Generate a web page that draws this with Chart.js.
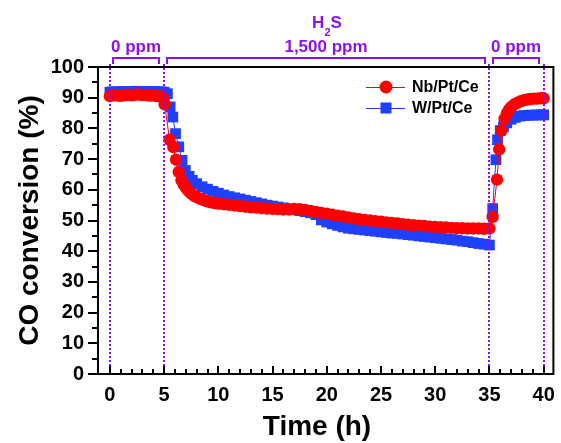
<!DOCTYPE html>
<html><head><meta charset="utf-8">
<script src="https://cdn.jsdelivr.net/npm/chart.js@4"></script>
<style>html,body{margin:0;padding:0;background:#fff}canvas{display:block}</style>
</head><body>
<canvas id="c" width="561" height="443"></canvas>
<script>
const seriesNames = ['Nb/Pt/Ce', 'W/Pt/Ce'];
const nbTime = [0,0.25,0.5,0.75,1,1.25,1.5,1.75,2,2.25,2.5,2.75,3,3.25,3.5,3.75,4,4.25,4.5,4.75,4.95,5.05,5.5,5.85,6.1,6.35,6.6,6.8,7.0,7.2,7.4,7.6,7.8,8.0,8.3,8.6,8.9,9.2,9.5,9.8,10.1,10.5,11,11.5,12,12.5,13,13.5,14,14.5,15,15.5,16,16.5,17,17.5,18,18.5,19,19.5,20,20.5,21,21.5,22,22.5,23,23.5,24,24.5,25,25.5,26,26.5,27,27.5,28,28.5,29,29.5,30,30.5,31,31.5,32,32.5,33,33.5,34,34.5,35,35.3,35.7,35.9,36.1,36.4,36.6,36.8,37.0,37.3,37.6,37.9,38.2,38.5,38.8,39.1,39.4,39.7,40.0];
const nbConv = [90.5,90.8,90.9,90.7,90.6,90.8,91.0,90.9,90.8,90.9,91.1,91.0,90.9,91.0,90.8,90.7,90.8,90.6,90.5,90.3,89.8,87.8,76.3,73.9,69.8,65.8,63.1,61.8,60.7,59.8,59.1,58.5,58.0,57.6,57.1,56.7,56.3,56.0,55.8,55.6,55.5,55.3,55.1,54.9,54.7,54.5,54.3,54.2,54.0,53.9,53.8,53.7,53.6,53.6,53.8,53.7,53.4,53.1,52.8,52.5,52.2,51.9,51.6,51.3,51.0,50.7,50.4,50.2,50.0,49.8,49.6,49.4,49.2,49.0,48.8,48.6,48.5,48.3,48.2,48.0,47.9,47.8,47.7,47.6,47.5,47.5,47.4,47.4,47.4,47.3,47.4,51.2,63.3,73.2,79.3,83.1,84.8,86.0,86.9,87.8,88.4,88.9,89.2,89.4,89.6,89.7,89.7,89.8,89.8];
const wTime = [0,0.25,0.5,0.75,1,1.25,1.5,1.75,2,2.25,2.5,2.75,3,3.25,3.5,3.75,4,4.25,4.5,4.75,5.0,5.3,5.55,5.8,6.05,6.35,6.65,6.95,7.3,7.6,8.0,8.5,9.0,9.5,10,10.5,11,11.5,12,12.5,13,13.5,14,14.5,15,15.5,16,16.5,17,17.5,18,18.5,19,19.5,20,20.5,21,21.5,22,22.5,23,23.5,24,24.5,25,25.5,26,26.5,27,27.5,28,28.5,29,29.5,30,30.5,31,31.5,32,32.5,33,33.5,34,34.5,35,35.3,35.6,35.75,36.0,36.3,36.6,37.0,37.4,37.8,38.2,38.6,39.0,39.4,39.8,40.0];
const wConv = [91.8,91.9,91.9,91.8,91.9,92.0,92.0,91.9,91.9,92.0,92.1,92.0,92.0,92.0,91.9,91.9,92.0,91.9,91.9,91.9,91.8,91.3,87.0,83.7,78.3,74.0,69.6,66.3,64.4,63.1,62.0,61.0,60.2,59.5,58.9,58.3,57.8,57.4,57.0,56.6,56.2,55.8,55.4,55.0,54.7,54.4,54.1,53.8,53.5,53.2,52.9,52.5,51.9,50.2,49.5,48.9,48.4,47.9,47.5,47.3,47.1,46.9,46.7,46.5,46.3,46.1,45.9,45.8,45.6,45.4,45.2,45.0,44.8,44.6,44.4,44.2,44.0,43.8,43.6,43.3,43.1,42.8,42.5,42.3,42.0,53.9,69.8,76.3,79.3,80.6,81.8,83.0,83.6,84.0,84.2,84.3,84.3,84.4,84.4,84.4];
const xTickValues = [0,5,10,15,20,25,30,35,40];
const xMinorValues = [1,2,3,4,6,7,8,9,11,12,13,14,16,17,18,19,21,22,23,24,26,27,28,29,31,32,33,34,36,37,38,39];
const yTickValues = [0,10,20,30,40,50,60,70,80,90,100];
const yMinorValues = [5,15,25,35,45,55,65,75,85,95];
const switchTimes = [0,5,35,40];
const phaseLabels = ['0 ppm','1,500 ppm','0 ppm'];
const phaseStart = [0.25,5.3,35.3];
const phaseEnd = [4.5,34.55,39.6];
const xTitle = 'Time (h)';
const yTitle = 'CO conversion (%)';

const RED = '#ff0000', BLUE = '#2040ff', PURPLE = '#8c10f0';
const FONT = "'Liberation Sans', Arial, sans-serif";

const deco = {
  id: 'deco',
  afterDatasetsDraw(chart) {
    const {ctx, chartArea: a, scales: {x, y}} = chart;
    ctx.save();
    // dotted switch lines
    ctx.strokeStyle = PURPLE; ctx.lineWidth = 2; ctx.setLineDash([2, 2]);
    switchTimes.forEach(t => {
      const px = Math.round(x.getPixelForValue(t));
      ctx.beginPath(); ctx.moveTo(px, a.top - 3); ctx.lineTo(px, a.bottom); ctx.stroke();
    });
    ctx.setLineDash([]);
    // frame
    ctx.strokeStyle = '#000'; ctx.lineWidth = 2;
    ctx.strokeRect(a.left, a.top, a.right - a.left, a.bottom - a.top);
    // y ticks (outward)
    ctx.beginPath();
    yTickValues.forEach(v => { const py = Math.round(y.getPixelForValue(v)); ctx.moveTo(a.left - 10, py); ctx.lineTo(a.left, py); });
    yMinorValues.forEach(v => { const py = Math.round(y.getPixelForValue(v)); ctx.moveTo(a.left - 6, py); ctx.lineTo(a.left, py); });
    // x ticks (inward)
    xTickValues.forEach(v => { const px = Math.round(x.getPixelForValue(v)); ctx.moveTo(px, a.bottom); ctx.lineTo(px, a.bottom - 8); });
    xMinorValues.forEach(v => { const px = Math.round(x.getPixelForValue(v)); ctx.moveTo(px, a.bottom); ctx.lineTo(px, a.bottom - 5); });
    ctx.stroke();
    // phase brackets
    ctx.strokeStyle = PURPLE; ctx.lineWidth = 2;
    const by = a.top - 9;
    phaseStart.forEach((s, i) => {
      const x0 = Math.round(x.getPixelForValue(s)), x1 = Math.round(x.getPixelForValue(phaseEnd[i]));
      ctx.beginPath(); ctx.moveTo(x0, by + 6); ctx.lineTo(x0, by); ctx.lineTo(x1, by); ctx.lineTo(x1, by + 6); ctx.stroke();
      ctx.fillStyle = PURPLE; ctx.font = 'bold 17px ' + FONT; ctx.textAlign = 'center'; ctx.textBaseline = 'alphabetic';
      ctx.fillText(phaseLabels[i], (x0 + x1) / 2, by - 6);
    });
    // H2S
    const mid = (x.getPixelForValue(phaseStart[1]) + x.getPixelForValue(phaseEnd[1])) / 2;
    ctx.textAlign = 'left';
    ctx.font = 'bold 17px ' + FONT; const wH = ctx.measureText('H').width;
    ctx.font = 'bold 11px ' + FONT; const w2 = ctx.measureText('2').width;
    ctx.font = 'bold 17px ' + FONT; const wS = ctx.measureText('S').width;
    let sx = mid - (wH + w2 + wS) / 2 + 1;
    ctx.fillText('H', sx, 28);
    ctx.font = 'bold 11px ' + FONT; ctx.fillText('2', sx + wH, 36);
    ctx.font = 'bold 17px ' + FONT; ctx.fillText('S', sx + wH + w2, 28);
    // x title
    ctx.fillStyle = '#000'; ctx.font = 'bold 28px ' + FONT; ctx.textAlign = 'center';
    ctx.fillText(xTitle, 317, 435);
    // legend
    const items = [{c: RED, s: 'circle', y: 87}, {c: BLUE, s: 'rect', y: 108}];
    items.forEach((it, i) => {
      ctx.strokeStyle = it.c; ctx.lineWidth = 1;
      ctx.beginPath(); ctx.moveTo(366, it.y + 0.5); ctx.lineTo(405, it.y + 0.5); ctx.stroke();
      ctx.fillStyle = it.c;
      if (it.s === 'circle') { ctx.beginPath(); ctx.arc(386, it.y, 6.5, 0, Math.PI * 2); ctx.fill(); }
      else { ctx.fillRect(380.5, it.y - 5.5, 11, 11); }
      ctx.fillStyle = '#000'; ctx.font = 'bold 16px ' + FONT; ctx.textAlign = 'left'; ctx.textBaseline = 'middle';
      ctx.fillText(seriesNames[i], 412, it.y + 1);
      ctx.textBaseline = 'alphabetic';
    });
    ctx.restore();
  }
};

const nbData = nbTime.map((t, i) => ({x: t, y: nbConv[i]}));
const wData = wTime.map((t, i) => ({x: t, y: wConv[i]}));

new Chart(document.getElementById('c'), {
  type: 'line',
  data: {
    datasets: [
      {label: seriesNames[0], data: nbData, borderColor: RED, backgroundColor: RED, borderWidth: 1,
       pointStyle: 'circle', pointRadius: 6.2, pointBorderWidth: 0, pointBackgroundColor: RED, clip: false},
      {label: seriesNames[1], data: wData, borderColor: BLUE, backgroundColor: BLUE, borderWidth: 1,
       pointStyle: 'rect', pointRadius: 7.6, pointBorderWidth: 0, pointBackgroundColor: BLUE, clip: false}
    ]
  },
  options: {
    responsive: false, animation: false, devicePixelRatio: 1,
    layout: {padding: {top: 67, right: 4, left: 0, bottom: 0}},
    plugins: {legend: {display: false}, tooltip: {enabled: false}},
    scales: {
      x: {type: 'linear', min: -1.1, max: 40.9,
          grid: {display: false, drawTicks: false}, border: {display: false},
          afterBuildTicks: s => { s.ticks = xTickValues.map(v => ({value: v})); },
          afterFit: s => { s.height = 69; s.paddingLeft = 0; s.paddingRight = 0; },
          ticks: {color: '#000', padding: 9, maxRotation: 0, autoSkip: false, font: {family: FONT, size: 20, weight: 'bold'}}},
      y: {type: 'linear', min: 0, max: 100,
          grid: {display: false, drawTicks: false}, border: {display: false},
          afterBuildTicks: s => { s.ticks = yTickValues.map(v => ({value: v})); },
          afterFit: s => { s.width = 98; s.paddingTop = 0; s.paddingBottom = 0; },
          title: {display: true, text: yTitle, color: '#000', padding: {top: 13, bottom: 0}, font: {family: FONT, size: 28, weight: 'bold'}},
          ticks: {color: '#000', padding: 14, autoSkip: false, font: {family: FONT, size: 20, weight: 'bold'}}}
    }
  },
  plugins: [deco]
});
</script>
</body></html>
